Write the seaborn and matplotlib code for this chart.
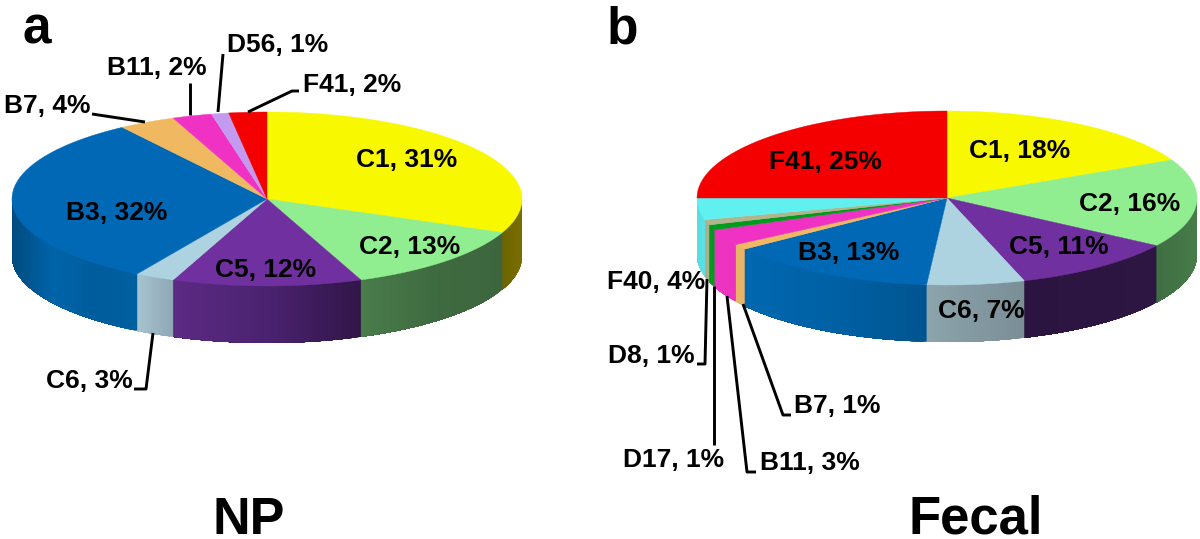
"""
plot.py
Two fake-3D pies (NP and Fecal), drawn in a full-figure pixel-scaled axes.
"""
import numpy as np
import matplotlib
matplotlib.use("Agg")
import matplotlib.pyplot as plt
import seaborn as sns

# labels show the rounded percent, shares are what the slices measure on the picture
np_names = ["C1", "C2", "C5", "C6", "B3", "B7", "B11", "D56", "F41"]
np_percent = [31, 13, 12, 3, 32, 4, 2, 1, 2]
np_shares = [31.3, 12.7, 12.0, 2.5, 31.9, 3.6, 2.5, 1.1, 2.4]

fecal_names = ["C1", "C2", "C5", "C6", "B3", "B7", "B11", "D17", "D8", "F40", "F41"]
fecal_percent = [18, 16, 11, 7, 13, 1, 3, 1, 1, 4, 25]
fecal_shares = [17.8, 16.4, 10.8, 6.3, 13.7, 1.0, 3.0, 1.0, 1.0, 4.0, 25.0]

TOP = {"C1": "#f8f800", "C2": "#90ee90", "C5": "#7030a0", "C6": "#add2e0", "B3": "#0068b4",
       "B7": "#f0b860", "B11": "#f032c4", "D56": "#c49af0", "D17": "#009a1e", "D8": "#b4b48c",
       "F40": "#60f0f0", "F41": "#f40000"}

# wall colours, left to right on screen
np_walls = {"C1": ["#6e6400", "#786e00"], "C2": ["#4a7c4c", "#3f6b40", "#3d663e"],
            "C5": ["#5c2a84", "#4a2270", "#321648"], "C6": ["#a8c4d0", "#8ea8b4"],
            "B3": ["#004c80", "#0064aa", "#005c9c", "#00609f"]}
fecal_walls = {"C2": ["#3f6e42", "#477c4a"], "C5": ["#2c1440", "#2e1642"], "C6": ["#8ca4ac", "#7a8e96"],
               "B3": ["#0068b0", "#0060a4", "#005590"], "B7": ["#e8b468", "#e8b468"],
               "B11": ["#ec34c0", "#ec34c0"], "D17": ["#009a1e", "#009a1e"],
               "D8": ["#a8b090", "#a8b090"], "F40": ["#58dce0", "#58e4e8"]}

NP_GEOM = dict(cx=267, cy=199, rx=255, ry=87, depth=57)
FECAL_GEOM = dict(cx=947, cy=198, rx=250, ry=87, depth=57)


def ellipse_xy(theta, g):
    # theta in degrees, clockwise from 12 o'clock
    t = np.radians(theta)
    return g["cx"] + g["rx"] * np.sin(t), g["cy"] - g["ry"] * np.cos(t)


def draw_pie(ax, names, shares, walls, g):
    edges = np.concatenate([[0], np.cumsum(shares)]) * 3.6

    # side wall first, only the part facing us (90..270 degrees)
    for name, a0, a1 in zip(names, edges[:-1], edges[1:]):
        lo, hi = max(a0, 90), min(a1, 270)
        if lo >= hi:
            continue
        steps = np.linspace(lo, hi, max(int(hi - lo) * 3, 2) + 1)
        x_all, y_all = ellipse_xy(steps, g)
        ramp = sns.blend_palette(walls.get(name, [TOP[name], TOP[name]]), 80)
        x_min, x_max = x_all.min(), x_all.max()
        # each piece runs on to the slice's far end so the next one overlaps it, no seams
        for i in range(len(steps) - 1):
            pos = ((x_all[i] + x_all[i + 1]) / 2 - x_min) / max(x_max - x_min, 1)
            c = ramp[min(int(pos * 80), 79)]
            xs = np.r_[x_all[i:], x_all[i:][::-1]]
            ys = np.r_[y_all[i:], y_all[i:][::-1] + g["depth"]]
            ax.fill(xs, ys, color=c, lw=0, zorder=2)

    # top faces
    for name, a0, a1 in zip(names, edges[:-1], edges[1:]):
        arc = np.linspace(a0, a1, max(int(a1 - a0) * 2, 4))
        x, y = ellipse_xy(arc, g)
        ax.fill(np.r_[g["cx"], x], np.r_[g["cy"], y], color=TOP[name], lw=0.3, zorder=3)


def leader(ax, xs, ys):
    ax.plot(xs, ys, color="black", lw=2.1, solid_capstyle="butt", solid_joinstyle="round", zorder=4)


def main():
    sns.set_theme(style="white")
    plt.rcParams["font.family"] = ["Liberation Sans", "DejaVu Sans"]
    plt.rcParams["font.weight"] = "bold"

    fig = plt.figure(figsize=(12, 5.39), dpi=100)
    ax = fig.add_axes([0, 0, 1, 1])
    ax.set_xlim(0, 1200)
    ax.set_ylim(539, 0)
    ax.axis("off")

    draw_pie(ax, np_names, np_shares, np_walls, NP_GEOM)
    draw_pie(ax, fecal_names, fecal_shares, fecal_walls, FECAL_GEOM)

    np_pct = dict(zip(np_names, np_percent))
    fecal_pct = dict(zip(fecal_names, fecal_percent))
    fs = 19

    # label centres, NP
    np_pos = {"C1": (407, 160), "C2": (410, 247), "C5": (266, 270), "C6": (89, 381), "B3": (117, 213),
              "B7": (47, 106), "B11": (157, 68), "D56": (278, 45), "F41": (352, 85)}
    for name, (x, y) in np_pos.items():
        ax.text(x, y, f"{name}, {np_pct[name]}%", ha="center", va="center", fontsize=fs, color="black", zorder=5)

    # label centres, Fecal
    fecal_pos = {"C1": (1020, 151), "C2": (1130, 204), "C5": (1059, 247), "C6": (981, 311), "B3": (849, 253),
                 "F41": (825, 162), "F40": (656, 282), "D8": (651, 356), "D17": (674, 460),
                 "B11": (810, 463), "B7": (837, 406)}
    for name, (x, y) in fecal_pos.items():
        ax.text(x, y, f"{name}, {fecal_pct[name]}%", ha="center", va="center", fontsize=fs, color="black", zorder=5)

    # leader lines, NP
    leader(ax, [92, 145], [114, 122])
    leader(ax, [190, 190], [83, 115])
    leader(ax, [223, 218], [54, 112])
    leader(ax, [248, 292, 299], [112, 91, 91])
    leader(ax, [153, 146, 134], [333, 389, 389])

    # leader lines, Fecal
    leader(ax, [707, 705, 697], [279, 364, 364])
    leader(ax, [714, 714], [286, 445])
    leader(ax, [727, 747, 756], [296, 472, 472])
    leader(ax, [743, 783, 791], [304, 415, 415])

    ax.text(23, 43, "a", ha="left", va="baseline", fontsize=37, color="black", zorder=5)
    ax.text(607, 43, "b", ha="left", va="baseline", fontsize=37, color="black", zorder=5)
    ax.text(249, 534, "NP", ha="center", va="baseline", fontsize=37.5, color="black", zorder=5)
    ax.text(976, 534, "Fecal", ha="center", va="baseline", fontsize=38, color="black", zorder=5)

    fig.savefig("out.png", dpi=100, facecolor="white")


if __name__ == "__main__":
    main()
